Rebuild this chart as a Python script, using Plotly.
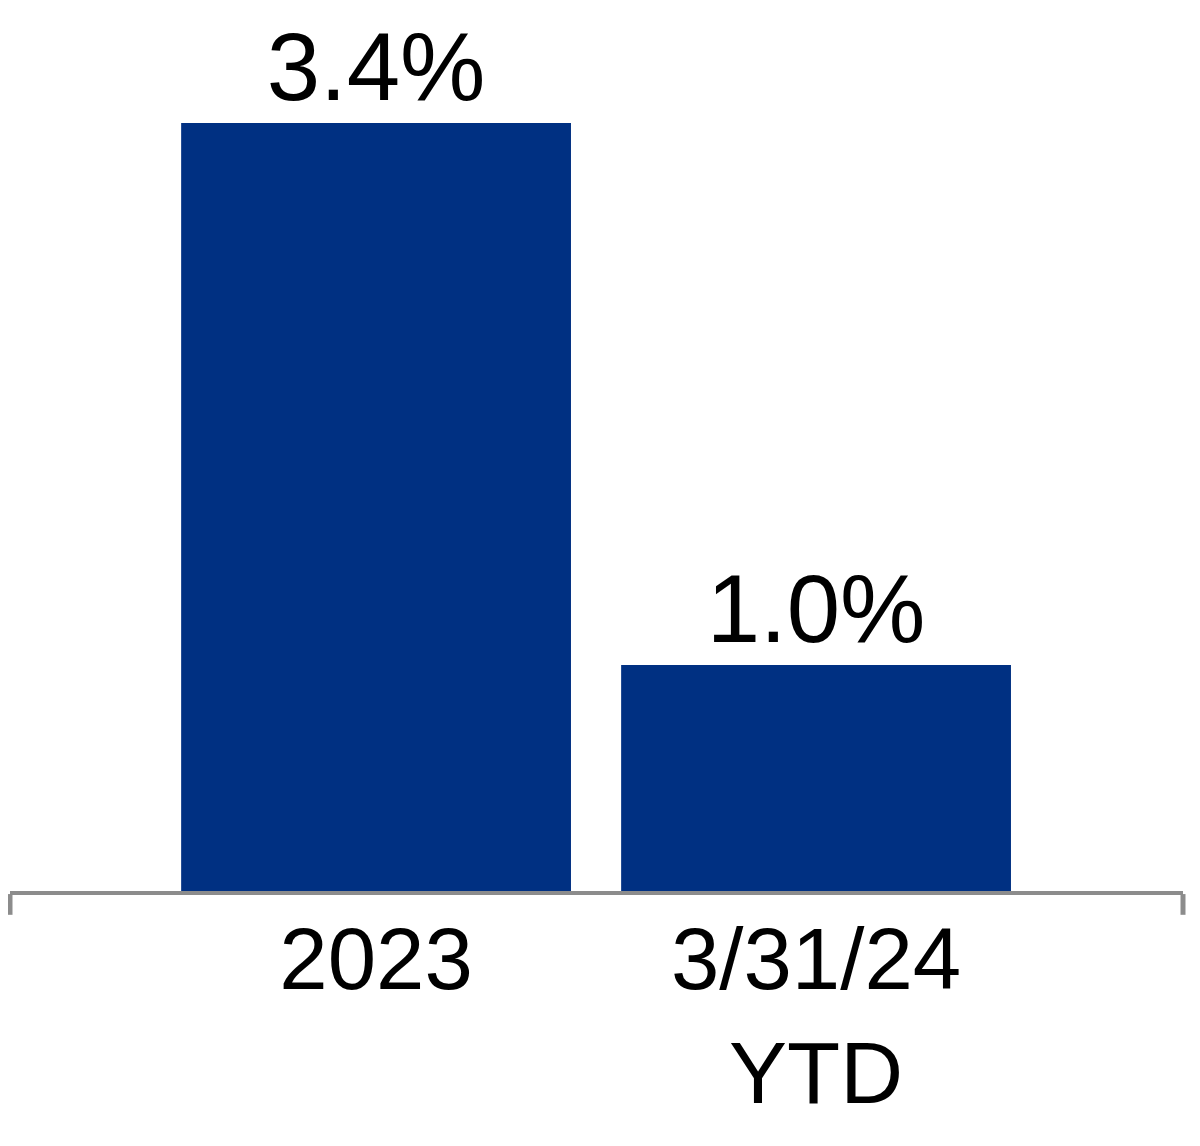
import plotly.graph_objects as go

categories = ["2023", "3/31/24<br>YTD"]
values = [3.4, 1.0]
value_labels = ["3.4%", "1.0%"]

fig = go.Figure(
    go.Bar(
        x=categories,
        y=values,
        text=value_labels,
        textposition="outside",
        textfont=dict(family="Liberation Sans, Arial, sans-serif", size=96, color="black"),
        marker=dict(color="#003082", line=dict(width=0)),
        cliponaxis=False,
        width=0.886,
    )
)

fig.update_layout(
    width=1200,
    height=1146,
    margin=dict(l=2, r=25, t=115, b=263),
    paper_bgcolor="white",
    plot_bgcolor="white",
    showlegend=False,
    font=dict(family="Liberation Sans, Arial, sans-serif", color="black"),
    xaxis=dict(
        range=[-0.832, 1.834],
        showline=True,
        linecolor="#8C8C8C",
        linewidth=4,
        ticks="",
        showgrid=False,
        tickfont=dict(size=87, color="black"),
        ticklabelstandoff=-10,
        fixedrange=True,
    ),
    yaxis=dict(
        range=[0, 3.4],
        visible=False,
        showgrid=False,
        zeroline=False,
    ),
)

for xd in (0, 1):
    fig.add_shape(
        type="line",
        xref="x domain",
        yref="y domain",
        x0=xd,
        x1=xd,
        y0=-0.004,
        y1=-0.031,
        line=dict(color="#8C8C8C", width=5),
    )

fig.write_html("out.html")
